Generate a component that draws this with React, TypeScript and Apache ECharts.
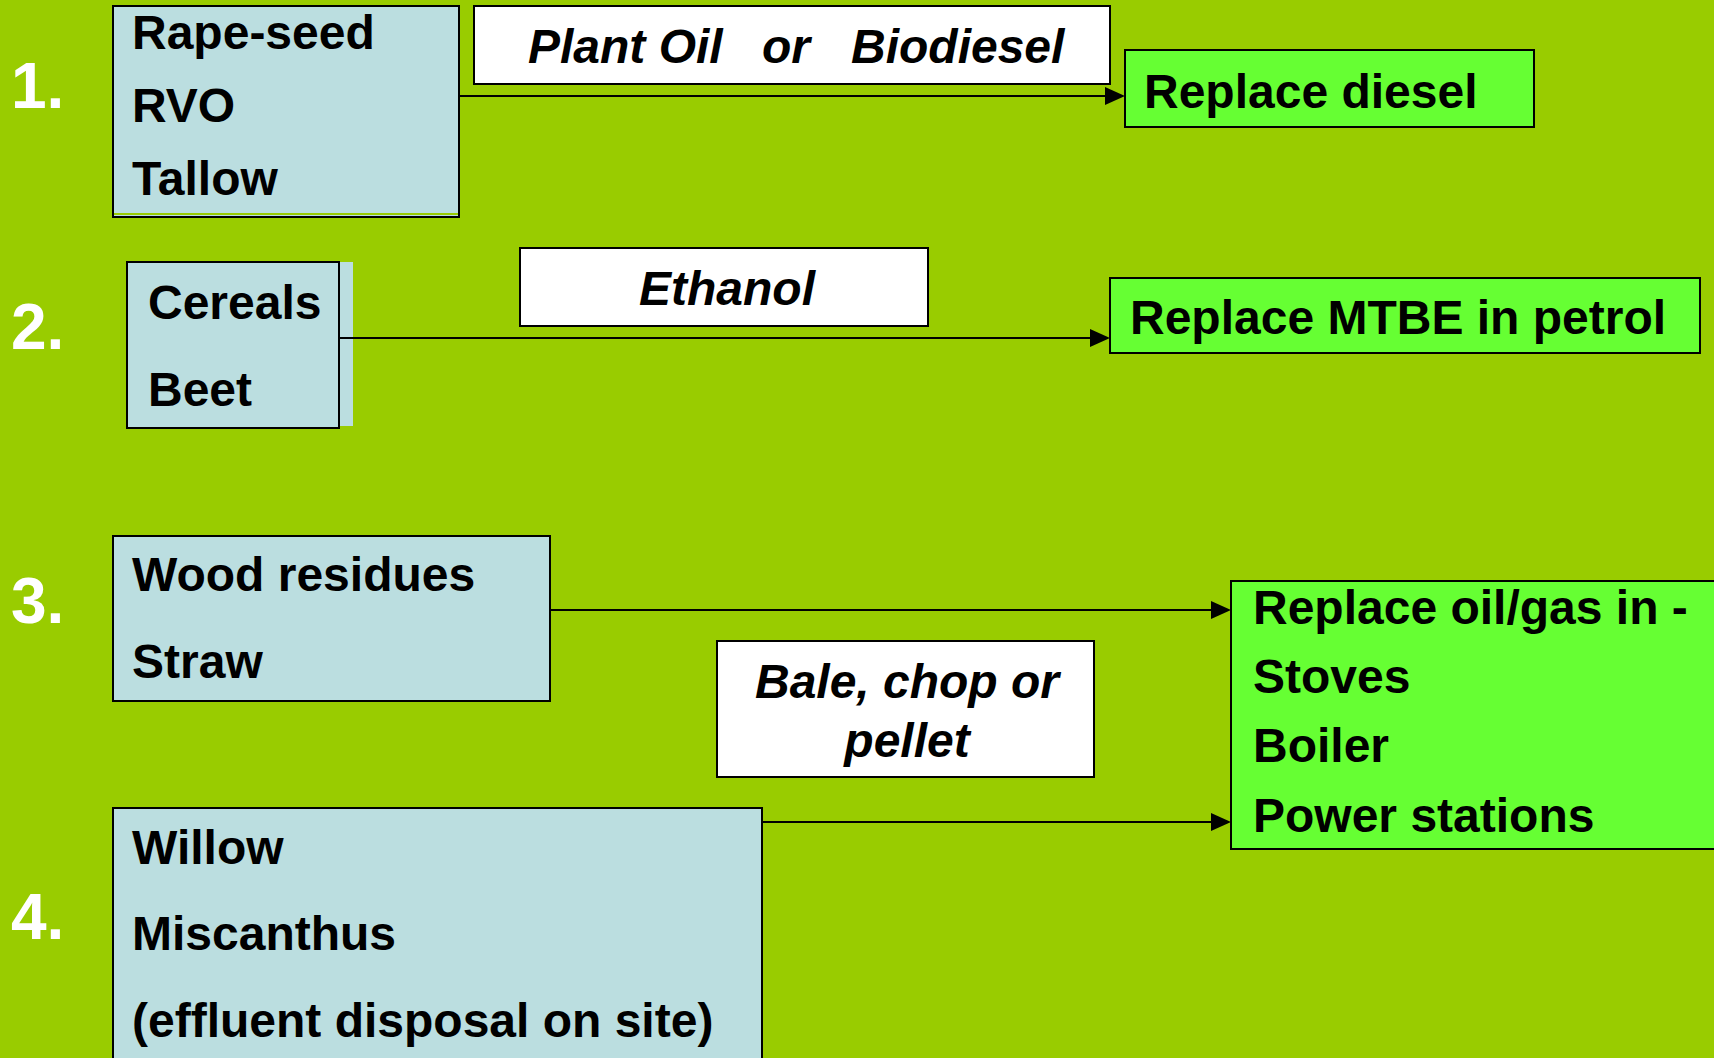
import React, { useEffect, useRef } from "react";
import * as echarts from "echarts";

// ---- content (texts) ----
const rowNumbers = ["1.", "2.", "3.", "4."];
const sourceLists = [
  ["Rape-seed", "RVO", "Tallow"],
  ["Cereals", "Beet"],
  ["Wood residues", "Straw"],
  ["Willow", "Miscanthus", "(effluent disposal on site)"],
];
const processLabels = [["Plant Oil", "or", "Biodiesel"], ["Ethanol"], ["Bale, chop or", "pellet"]];
const outcomeLists = [
  ["Replace diesel"],
  ["Replace MTBE in petrol"],
  ["Replace oil/gas in -", "Stoves", "Boiler", "Power stations"],
];

// ---- layout / styles ----
const BG = "#99CC00";
const BLUE = "#BBDEE0";
const GREEN = "#66FF33";
const FONT = '"Liberation Sans", Arial, sans-serif';
const F = 48;

const numberLayout = [
  { x: 11, y: 86 },
  { x: 11, y: 327 },
  { x: 11, y: 601 },
  { x: 11, y: 917 },
];
const sourceBoxes = [
  { x: 113, y: 6, w: 346, h: 211, tx: 132, ty: [32, 105, 178] },
  { x: 127, y: 262, w: 212, h: 166, tx: 148, ty: [302, 389] },
  { x: 113, y: 536, w: 437, h: 165, tx: 132, ty: [574, 661] },
  { x: 113, y: 808, w: 649, h: 270, tx: 132, ty: [847, 933, 1020] },
];
const processBoxes = [
  { x: 474, y: 6, w: 636, h: 78, tx: [528, 762, 851], ty: [46, 46, 46], align: "left" },
  { x: 520, y: 248, w: 408, h: 78, tx: [727], ty: [288], align: "center" },
  { x: 717, y: 641, w: 377, h: 136, tx: [907, 907], ty: [681, 740], align: "center" },
];
const outcomeBoxes = [
  { x: 1125, y: 50, w: 409, h: 77, tx: 1144, ty: [91] },
  { x: 1110, y: 278, w: 590, h: 75, tx: 1130, ty: [317] },
  { x: 1231, y: 581, w: 520, h: 268, tx: 1253, ty: [607, 676, 745, 815] },
];
const arrows = [
  { x1: 459, x2: 1125, y: 96 },
  { x1: 339, x2: 1110, y: 338 },
  { x1: 550, x2: 1231, y: 610 },
  { x1: 762, x2: 1231, y: 822 },
];

function txt(text: string, x: number, y: number, opts: any = {}) {
  const align = opts.align || "left";
  return {
    type: "text",
    x,
    y,
    z: 10,
    style: {
      text,
      fill: opts.fill || "#000",
      font: `${opts.italic ? "italic " : ""}bold ${opts.size || F}px ${FONT}`,
      align,
      verticalAlign: "middle",
      textAlign: align,
      textVerticalAlign: "middle",
    },
  };
}

function rect(b: any, fill: string, stroke: string | null, z = 2) {
  return {
    type: "rect",
    z,
    shape: { x: b.x, y: b.y, width: b.w, height: b.h },
    style: { fill, stroke: stroke || "none", lineWidth: stroke ? 2 : 0 },
  };
}

export default function App() {
  const ref = useRef<HTMLDivElement>(null);
  useEffect(() => {
    if (!ref.current) return;
    const chart = echarts.init(ref.current, null, { renderer: "svg" });
    const els: any[] = [];

    // row numbers
    rowNumbers.forEach((n, i) => {
      els.push(txt(n, numberLayout[i].x, numberLayout[i].y, { fill: "#FFFFFF", size: 64 }));
    });

    // source boxes
    sourceBoxes.forEach((b, i) => {
      if (i === 1) {
        els.push(rect({ x: b.x, y: b.y, w: b.w + 14, h: b.h - 2 }, BLUE, null, 1));
      }
      els.push(rect(b, BLUE, "#000"));
      if (i === 0) {
        els.push({
          type: "line",
          z: 3,
          shape: { x1: b.x + 1, y1: b.y + b.h - 3, x2: b.x + b.w - 1, y2: b.y + b.h - 3 },
          style: { stroke: BG, lineWidth: 2 },
        });
      }
      sourceLists[i].forEach((t, j) => els.push(txt(t, b.tx, b.ty[j])));
    });

    // process boxes
    processBoxes.forEach((b, i) => {
      els.push(rect(b, "#FFFFFF", "#000"));
      processLabels[i].forEach((t, j) =>
        els.push(txt(t, b.tx[j], b.ty[j], { italic: true, align: b.align }))
      );
    });

    // outcome boxes
    outcomeBoxes.forEach((b, i) => {
      els.push(rect(b, GREEN, "#000"));
      outcomeLists[i].forEach((t, j) => els.push(txt(t, b.tx, b.ty[j])));
    });

    // arrows
    arrows.forEach((a) => {
      els.push({
        type: "line",
        z: 5,
        shape: { x1: a.x1, y1: a.y, x2: a.x2 - 18, y2: a.y },
        style: { stroke: "#000", lineWidth: 2 },
      });
      els.push({
        type: "polygon",
        z: 5,
        shape: {
          points: [
            [a.x2 - 20, a.y - 9],
            [a.x2, a.y],
            [a.x2 - 20, a.y + 9],
          ],
        },
        style: { fill: "#000" },
      });
    });

    chart.setOption({
      animation: false,
      backgroundColor: BG,
      graphic: { elements: els },
    });
    return () => chart.dispose();
  }, []);
  return (
    <div
      ref={ref}
      style={{ position: "fixed", left: 0, top: 0, width: 1714, height: 1058 }}
    />
  );
}
